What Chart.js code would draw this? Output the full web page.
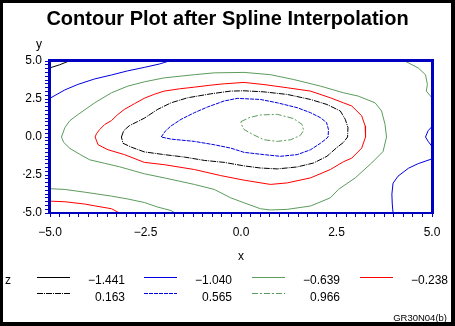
<!DOCTYPE html>
<html>
<head>
<meta charset="utf-8">
<script src="https://cdn.jsdelivr.net/npm/chart.js@4.4.0/dist/chart.umd.min.js"></script>
<style>
  html, body { margin: 0; padding: 0; background: #fff; }
  canvas { display: block; }
</style>
</head>
<body>
<canvas id="canvas" width="455" height="326"></canvas>
<script>
// contour levels of z, in legend order
var levels = [-1.441, -1.040, -0.639, -0.238, 0.163, 0.565, 0.966];

// contour paths as [x, y] pairs
var zN1441TopLeft = [[-5, 4.55], [-4.75, 4.75], [-4.5, 5]];

var zN1040TopLeft = [[-5, 2.55], [-4.61, 3.10], [-4.27, 3.46], [-3.83, 3.82], [-3.39, 4.08],
  [-2.97, 4.35], [-2.53, 4.58], [-2.14, 4.80], [-1.88, 5]];
var zN1040BottomRight = [[3.98, -5], [3.96, -4.41], [3.95, -3.76], [3.98, -3.04], [4.11, -2.58],
  [4.38, -2.06], [4.64, -1.75], [5, -1.44]];
var zN1040Right = [[5, 0.69], [4.90, 0.42], [4.83, 0], [4.90, -0.29], [5, -0.62]];

var zN0639Main = [[-4.70, 0], [-4.61, 0.62], [-4.48, 1.08], [-4.26, 1.49], [-3.83, 2.25],
  [-3.39, 2.91], [-2.96, 3.35], [-2.53, 3.63], [-2.01, 3.89], [-1.22, 4.10], [-0.70, 4.22],
  [0.08, 4.25], [0.77, 4.10], [1.38, 3.78], [2.08, 3.35], [2.68, 2.91], [3.07, 2.69],
  [3.51, 2.25], [3.68, 1.71], [3.77, 0.84], [3.81, 0], [3.72, -0.95], [3.42, -1.71],
  [2.99, -2.69], [2.55, -3.45], [2.34, -4.00], [1.82, -4.54], [1.21, -4.76], [0.77, -4.80],
  [0.51, -4.72], [0.08, -4.33], [-0.27, -4.00], [-0.70, -3.45], [-1.22, -3.12], [-2.01, -2.69],
  [-2.53, -2.42], [-3.18, -1.96], [-3.57, -1.73], [-3.96, -1.50], [-4.22, -1.14],
  [-4.48, -0.75], [-4.64, -0.36], [-4.70, 0]];
var zN0639TopRight = [[4.29, 5], [4.64, 4.54], [4.83, 4.10], [4.88, 3.45], [4.85, 3.02], [5, 2.58]];
var zN0639BottomLeft = [[-5, -3.40], [-4.61, -3.45], [-4.09, -3.63], [-3.39, -3.89], [-2.96, -4.08],
  [-2.53, -4.31], [-2.18, -4.61], [-1.83, -4.84], [-1.72, -5]];

var zN0238Main = [[-3.82, 0], [-3.78, 0.23], [-3.70, 0.49], [-3.57, 0.82], [-3.39, 1.08],
  [-3.23, 1.47], [-3.05, 1.82], [-2.79, 2.19], [-2.53, 2.55], [-2.27, 2.81], [-2.01, 3.02],
  [-1.61, 3.17], [-1.22, 3.28], [-0.83, 3.40], [-0.44, 3.50], [0.08, 3.59], [0.60, 3.45],
  [1.21, 3.24], [1.82, 3.02], [2.34, 2.58], [2.68, 2.25], [2.90, 2.04], [3.16, 1.39],
  [3.25, 0.73], [3.26, 0], [3.16, -0.73], [2.90, -1.39], [2.68, -1.63], [2.34, -2.14],
  [1.82, -2.69], [1.21, -3.02], [0.77, -3.12], [0.08, -2.84], [-0.53, -2.54], [-1.22, -2.14],
  [-2.01, -1.82], [-2.53, -1.67], [-3.05, -1.16], [-3.48, -0.84], [-3.74, -0.51], [-3.82, 0]];
var zN0238BottomLeft = [[-5, -4.22], [-4.61, -4.26], [-4.09, -4.41], [-3.83, -4.53],
  [-3.39, -4.72], [-3.18, -5]];

var zP0163 = [[-3.13, 0], [-3.07, 0.42], [-2.92, 0.75], [-2.71, 1.01], [-2.53, 1.24],
  [-2.18, 1.82], [-1.83, 2.25], [-1.40, 2.58], [-0.79, 2.84], [-0.27, 3.02], [0.08, 3.04],
  [0.60, 2.97], [1.21, 2.80], [1.82, 2.47], [2.25, 2.14], [2.60, 1.71], [2.73, 1.16],
  [2.80, 0.62], [2.79, 0], [2.68, -0.36], [2.51, -0.69], [2.25, -1.27], [1.90, -1.71],
  [1.47, -1.97], [0.95, -2.10], [0.51, -2.04], [0.08, -1.90], [-0.44, -1.67], [-0.96, -1.54],
  [-1.48, -1.32], [-2.01, -1.16], [-2.53, -0.98], [-2.87, -0.67], [-3.09, -0.41], [-3.13, 0]];

var zP0565 = [[-2.09, 0], [-1.98, 0.39], [-1.83, 0.73], [-1.57, 1.16], [-1.22, 1.60],
  [-0.88, 1.97], [-0.44, 2.37], [-0.10, 2.54], [0.51, 2.47], [0.95, 2.25], [1.47, 1.93],
  [1.82, 1.60], [2.08, 1.27], [2.24, 0.95], [2.29, 0.49], [2.28, 0], [2.21, -0.16],
  [2.08, -0.41], [1.82, -0.84], [1.47, -1.16], [1.03, -1.27], [0.60, -1.16], [0.08, -1.01],
  [-0.27, -0.73], [-0.70, -0.51], [-1.22, -0.29], [-1.83, -0.14], [-2.09, 0]];

var zP0966 = [[0, 1.01], [0.21, 1.27], [0.51, 1.45], [0.95, 1.49], [1.38, 1.21], [1.60, 0.82],
  [1.64, 0.42], [1.55, 0.10], [1.30, -0.18], [0.95, -0.29], [0.60, -0.18], [0.34, 0.13],
  [0.08, 0.49], [0, 0.88], [0, 1.01]];

var xTickLabels = [-5, -2.5, 0, 2.5, 5];
var yTickLabels = [-5, -2.5, 0, 2.5, 5];

var FONT = '"Liberation Sans", Arial, Helvetica, sans-serif';
var frameBlue = '#0000c0';

// line style of each level, same order as levels
var lineStyles = [
  { color: '#000000', dash: [] },
  { color: '#0000e0', dash: [] },
  { color: '#5c9c5c', dash: [] },
  { color: '#ff0000', dash: [] },
  { color: '#000000', dash: [6, 1, 1, 1] },
  { color: '#0000e0', dash: [4, 1] },
  { color: '#5c9c5c', dash: [6, 2, 2, 2] }
];

var pieces = [
  [0, zN1441TopLeft],
  [1, zN1040TopLeft], [1, zN1040BottomRight], [1, zN1040Right],
  [2, zN0639Main], [2, zN0639TopRight], [2, zN0639BottomLeft],
  [3, zN0238Main], [3, zN0238BottomLeft],
  [4, zP0163],
  [5, zP0565],
  [6, zP0966]
];

function fmt(v, digits) {
  return v.toFixed(digits).replace('-', '\u2212');
}

function isLabelled(list, v) {
  for (var i = 0; i < list.length; i++) {
    if (Math.abs(list[i] - v) < 1e-6) return true;
  }
  return false;
}

var datasets = pieces.map(function (p) {
  var st = lineStyles[p[0]];
  return {
    label: fmt(levels[p[0]], 3),
    data: p[1].map(function (pt) { return { x: pt[0], y: pt[1] }; }),
    showLine: true,
    borderColor: st.color,
    borderDash: st.dash,
    borderWidth: 1,
    pointRadius: 0,
    tension: 0,
    fill: false
  };
});

var decor = {
  id: 'decor',
  beforeDraw: function (chart) {
    var ctx = chart.ctx;
    ctx.save();
    ctx.fillStyle = '#fff';
    ctx.fillRect(0, 0, chart.width, chart.height);
    ctx.restore();
  },
  afterDatasetsDraw: function (chart) {
    var ctx = chart.ctx, a = chart.chartArea;
    var L = Math.round(a.left), R = Math.round(a.right), T = Math.round(a.top), B = Math.round(a.bottom);
    ctx.save();
    ctx.fillStyle = frameBlue;
    ctx.fillRect(L - 2, T - 2, R - L + 4, 3);
    ctx.fillRect(L - 2, T - 2, 3, B - T + 3);
    ctx.fillRect(R - 1, T - 2, 3, B - T + 3);
    ctx.fillRect(L - 2, B - 1, R - L + 4, 2);
    ctx.restore();
  },
  afterDraw: function (chart) {
    var ctx = chart.ctx;
    ctx.save();
    // outer black border
    ctx.fillStyle = '#000';
    ctx.fillRect(0, 0, 455, 3);
    ctx.fillRect(0, 0, 3, 326);
    ctx.fillRect(451, 0, 4, 326);
    ctx.fillRect(0, 322, 455, 4);

    ctx.font = '12px ' + FONT;
    ctx.textBaseline = 'alphabetic';
    ctx.textAlign = 'center';
    ctx.fillText('y', 39, 48);

    // level legend
    ctx.textAlign = 'left';
    ctx.fillText('z', 5, 284);
    var sampleX = [37, 144, 252, 360];
    var labelX = [125, 232, 340, 448];
    var lineY = [277.5, 293.5];
    var textY = [284, 300.5];
    levels.forEach(function (lv, i) {
      var row = Math.floor(i / 4), col = i % 4;
      var st = lineStyles[i];
      ctx.strokeStyle = st.color;
      ctx.lineWidth = 1;
      ctx.setLineDash(st.dash);
      ctx.beginPath();
      ctx.moveTo(sampleX[col], lineY[row]);
      ctx.lineTo(sampleX[col] + 33, lineY[row]);
      ctx.stroke();
      ctx.setLineDash([]);
      ctx.fillStyle = '#000';
      ctx.textAlign = 'right';
      ctx.fillText(fmt(lv, 3), labelX[col], textY[row]);
    });

    ctx.font = '9.5px ' + FONT;
    ctx.textAlign = 'right';
    ctx.fillText('GR30N04(b)', 447, 321);
    ctx.restore();
  }
};

new Chart(document.getElementById('canvas'), {
  type: 'scatter',
  data: { datasets: datasets },
  plugins: [decor],
  options: {
    responsive: false,
    animation: false,
    events: [],
    // equal side padding keeps the title centred on the canvas
    layout: { padding: { left: 23, right: 23, top: 0, bottom: 62 } },
    plugins: {
      legend: { display: false },
      tooltip: { enabled: false },
      title: {
        display: true,
        text: 'Contour Plot after Spline Interpolation',
        color: '#000',
        font: { family: FONT, size: 20, weight: 'bold' },
        padding: { top: 7, bottom: 30 }
      }
    },
    scales: {
      x: {
        type: 'linear',
        min: -5, max: 5,
        border: { display: false },
        grid: { drawOnChartArea: false, drawTicks: true, tickLength: 4, color: frameBlue },
        ticks: {
          stepSize: 0.25, maxTicksLimit: 100, autoSkip: false, maxRotation: 0,
          padding: 8, color: '#000', font: { family: FONT, size: 12 },
          callback: function (v) { return isLabelled(xTickLabels, v) ? fmt(v, 1) : ''; }
        },
        title: { display: true, text: 'x', color: '#000', font: { family: FONT, size: 12 }, padding: 0 },
        afterFit: function (s) { s.height = 51; }
      },
      y: {
        type: 'linear',
        min: -5, max: 5,
        border: { display: false },
        grid: { drawOnChartArea: false, drawTicks: true, tickLength: 5, color: frameBlue },
        ticks: {
          stepSize: 0.25, maxTicksLimit: 100, autoSkip: false,
          padding: 3, color: '#000', font: { family: FONT, size: 12 },
          callback: function (v) { return isLabelled(yTickLabels, v) ? fmt(v, 1) : ''; }
        },
        afterFit: function (s) { s.width = 27; }
      }
    }
  }
});
</script>
</body>
</html>
